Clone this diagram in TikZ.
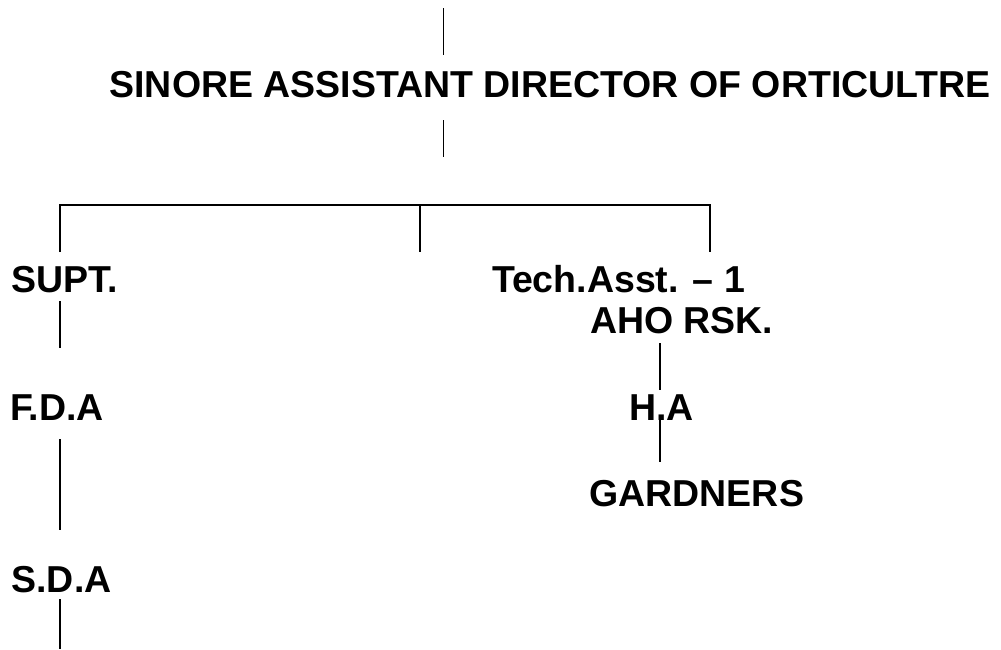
\documentclass[tikz,border=0pt]{standalone}
\usepackage{fontspec}
\setmainfont{Liberation Sans}
\begin{document}
\begin{tikzpicture}[x=1pt,y=-1pt,
  lbl/.style={anchor=base west,inner sep=0pt,outer sep=0pt,font=\fontsize{37.5}{44}\selectfont\bfseries},
  conn/.style={line width=1.9pt}]
\useasboundingbox (0,0) rectangle (1001,649);
% text nodes
\node[lbl] (title) at (109.5,97) {SINORE ASSISTANT DIRECTOR OF ORTICULTRE};
\node[lbl] (supt) at (11.5,292) {SUPT.};
\node[lbl] (fda) at (10,420) {F.D.A};
\node[lbl] (sda) at (11.5,592) {S.D.A};
\node[lbl] (tech) at (492,292) {Tech.Asst. – 1};
\node[lbl] (aho) at (590,333) {AHO RSK.};
\node[lbl] (ha) at (629,420) {H.A};
\node[lbl] (gard) at (589.5,506) {GARDNERS};
% connector end points
\coordinate (t0) at (443.5,8);
\coordinate (t1) at (443.5,55);
\coordinate (b0) at (443.5,120);
\coordinate (b1) at (443.5,157);
\coordinate (hl) at (60,205);
\coordinate (hm) at (420,205);
\coordinate (hr) at (710,205);
\coordinate (dl) at (60,252);
\coordinate (dm) at (420,252);
\coordinate (dr) at (710,252);
\coordinate (s0) at (60,301);
\coordinate (s1) at (60,348);
\coordinate (f0) at (60,439);
\coordinate (f1) at (60,530);
\coordinate (d0) at (60,599);
\coordinate (d1) at (60,649);
\coordinate (a0) at (660,343);
\coordinate (a1) at (660,390);
\coordinate (h0) at (660,418);
\coordinate (h1) at (660,462);
% connectors
\draw[conn] (t0) -- (t1);
\draw[conn] (b0) -- (b1);
\draw[conn] (dl) -- (hl) -- (hr) -- (dr);
\draw[conn] (hm) -- (dm);
\draw[conn] (s0) -- (s1);
\draw[conn] (f0) -- (f1);
\draw[conn] (d0) -- (d1);
\draw[conn] (a0) -- (a1);
\draw[conn] (h0) -- (h1);
\end{tikzpicture}
\end{document}
